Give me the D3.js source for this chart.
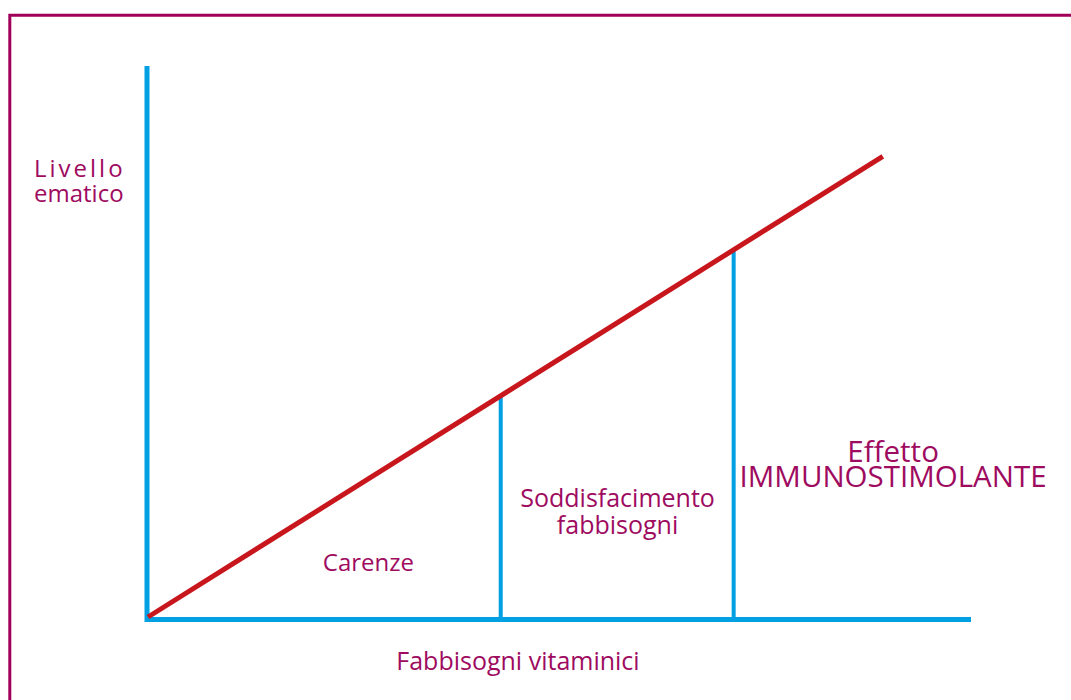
<!DOCTYPE html>
<html>
<head>
<meta charset="utf-8">
<script src="https://cdn.jsdelivr.net/npm/d3@7"></script>
<style>
  body { margin: 0; background: #fff; }
  text { font-family: "Open Sans", "Noto Sans", sans-serif; fill: #9e0b5f; }
</style>
</head>
<body>
<div id="chart"></div>
<script>
// blood level rises linearly with vitamin intake
const levelLine = [[0, 0], [100, 100]];
// thresholds splitting the zones
const thresholds = [48, 79.7];
const zoneLabels = [
  { x: 30, y: 9.9, size: 24, gap: 27, lines: ['Carenze'] },
  { x: 63.9, y: 23.8, size: 25, gap: 27, lines: ['Soddisfacimento', 'fabbisogni'] },
  { x: 101.4, y: 33.6, size: 29.5, gap: 25, lines: ['Effetto', 'IMMUNOSTIMOLANTE'] }
];
const axisLabelX = 'Fabbisogni vitaminici';
const axisLabelY = ['Livello', 'ematico'];

const W = 1071, H = 700;
const Blue = '#00a0e3', Red = '#c8161d', Frame = '#a0005a';

const x = d3.scaleLinear().domain([0, 112]).range([148, 971]);
const y = d3.scaleLinear().domain([0, 119.6]).range([617, 66]);

const svg = d3.select('#chart')
  .append('svg')
  .attr('width', W)
  .attr('height', H);

// frame (top and left only)
svg.append('path')
  .attr('d', `M9.8,${H} V15.3 H${W}`)
  .attr('fill', 'none')
  .attr('stroke', Frame)
  .attr('stroke-width', 3);

// axes
svg.append('line')
  .attr('x1', x(0) - 1).attr('x2', x(0) - 1)
  .attr('y1', y(119.6)).attr('y2', y(0) + 5)
  .attr('stroke', Blue).attr('stroke-width', 5);
svg.append('line')
  .attr('x1', x(0) - 3).attr('x2', x(112))
  .attr('y1', y(0) + 2.5).attr('y2', y(0) + 2.5)
  .attr('stroke', Blue).attr('stroke-width', 5);

// threshold verticals
svg.selectAll('line.thr')
  .data(thresholds)
  .enter()
  .append('line')
  .attr('class', 'thr')
  .attr('x1', d => x(d)).attr('x2', d => x(d))
  .attr('y1', d => y(d) + 1).attr('y2', y(0) + 1)
  .attr('stroke', Blue).attr('stroke-width', 4);

// level line
svg.append('path')
  .datum(levelLine)
  .attr('d', d3.line().x(d => x(d[0])).y(d => y(d[1])))
  .attr('fill', 'none')
  .attr('stroke', Red)
  .attr('stroke-width', 5);

// zone labels
zoneLabels.forEach(z => {
  const t = svg.append('text')
    .attr('x', x(z.x))
    .attr('y', y(z.y))
    .attr('text-anchor', 'middle')
    .style('font-size', z.size + 'px');
  z.lines.forEach((s, j) => {
    t.append('tspan')
      .attr('x', x(z.x))
      .attr('dy', j === 0 ? 0 : z.gap)
      .text(s);
  });
});

// axis labels
svg.append('text')
  .attr('x', 518)
  .attr('y', 670)
  .attr('text-anchor', 'middle')
  .style('font-size', '25px')
  .text(axisLabelX);

const yl = svg.append('text')
  .attr('x', 34)
  .attr('y', 177)
  .style('font-size', '24px');
yl.append('tspan').attr('x', 34).style('letter-spacing', '3px').text(axisLabelY[0]);
yl.append('tspan').attr('x', 34).attr('dy', 25).text(axisLabelY[1]);
</script>
</body>
</html>
